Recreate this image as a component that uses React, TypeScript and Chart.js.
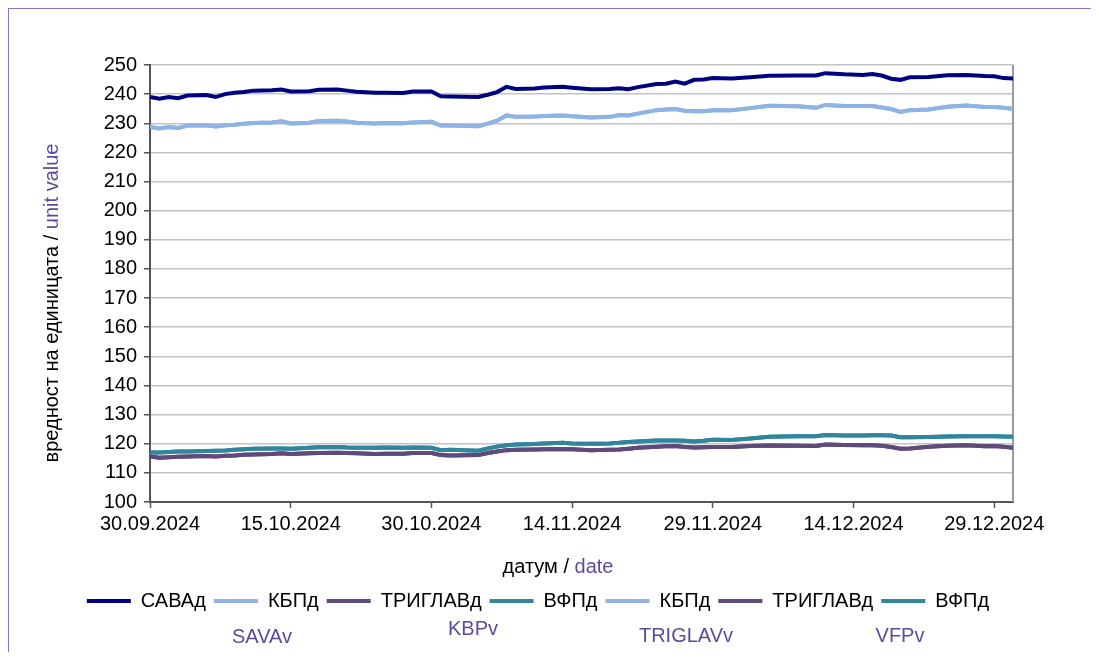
import React, { useEffect, useRef } from "react";
import { Chart, registerables } from "chart.js";

Chart.register(...registerables);

// ---- data ----
// day offsets from 30.09.2024
const days = [0, 1, 2, 3, 4, 6, 7, 8, 9, 10, 11, 13, 14, 15, 17, 18, 20, 21, 22, 24, 25, 27, 28, 30, 31, 32, 35, 36, 37, 38, 39, 41, 42, 44, 45, 47, 49, 50, 51, 52, 54, 55, 56, 57, 58, 59, 60, 62, 64, 66, 69, 71, 72, 74, 76, 77, 78, 79, 80, 81, 83, 85, 87, 89, 90, 91, 92];

const savaValues = [239.0, 238.4, 239.0, 238.6, 239.5, 239.7, 239.0, 240.0, 240.5, 240.7, 241.2, 241.3, 241.6, 240.9, 241.0, 241.5, 241.6, 241.2, 240.8, 240.5, 240.5, 240.4, 240.9, 240.9, 239.3, 239.2, 239.0, 239.8, 240.7, 242.5, 241.8, 241.9, 242.3, 242.5, 242.2, 241.7, 241.8, 242.0, 241.7, 242.4, 243.5, 243.6, 244.3, 243.6, 244.9, 245.0, 245.5, 245.4, 245.8, 246.3, 246.4, 246.4, 247.2, 246.8, 246.6, 246.9, 246.4, 245.3, 244.9, 245.8, 245.9, 246.5, 246.6, 246.2, 246.1, 245.5, 245.4];

const kbpValues = [228.7, 228.2, 228.7, 228.4, 229.2, 229.3, 228.9, 229.3, 229.5, 229.8, 230.1, 230.3, 230.7, 229.9, 230.2, 230.8, 230.9, 230.6, 230.2, 229.9, 230.1, 230.0, 230.3, 230.5, 229.2, 229.2, 229.0, 229.9, 230.9, 232.7, 232.2, 232.3, 232.5, 232.7, 232.4, 232.0, 232.2, 232.8, 232.7, 233.3, 234.5, 234.7, 234.9, 234.3, 234.1, 234.1, 234.5, 234.5, 235.2, 236.0, 235.8, 235.3, 236.3, 235.9, 235.9, 235.9, 235.4, 234.9, 233.9, 234.5, 234.7, 235.7, 236.1, 235.6, 235.6, 235.3, 235.0];

const triglavValues = [115.6, 115.2, 115.4, 115.5, 115.6, 115.8, 115.6, 115.9, 116.0, 116.2, 116.3, 116.5, 116.7, 116.5, 116.7, 116.8, 116.9, 116.8, 116.7, 116.5, 116.6, 116.6, 116.8, 116.8, 116.1, 116.0, 116.1, 116.8, 117.3, 117.8, 117.9, 118.0, 118.1, 118.2, 118.1, 117.8, 117.9, 118.0, 118.3, 118.6, 119.0, 119.1, 119.2, 118.9, 118.7, 118.8, 118.9, 118.9, 119.2, 119.4, 119.3, 119.2, 119.7, 119.6, 119.5, 119.5, 119.3, 118.9, 118.3, 118.4, 119.0, 119.3, 119.5, 119.1, 119.2, 119.0, 118.6];

const vfpValues = [117.0, 117.0, 117.2, 117.3, 117.3, 117.5, 117.6, 117.7, 117.9, 118.1, 118.3, 118.4, 118.4, 118.3, 118.6, 118.8, 118.9, 118.7, 118.6, 118.6, 118.7, 118.6, 118.7, 118.6, 117.8, 117.9, 117.6, 118.4, 119.0, 119.5, 119.7, 119.9, 120.1, 120.3, 120.1, 120.0, 120.1, 120.3, 120.6, 120.8, 121.1, 121.1, 121.1, 121.0, 120.8, 121.0, 121.4, 121.3, 121.8, 122.4, 122.6, 122.6, 123.0, 122.8, 122.8, 122.9, 122.9, 122.8, 122.2, 122.2, 122.3, 122.5, 122.6, 122.6, 122.6, 122.5, 122.4];

const tickDays = [0, 15, 30, 45, 60, 75, 90];
const tickLabels = ["30.09.2024", "15.10.2024", "30.10.2024", "14.11.2024", "29.11.2024", "14.12.2024", "29.12.2024"];

const seriesNames = ["САВАд", "КБПд", "ТРИГЛАВд", "ВФПд", "КБПд", "ТРИГЛАВд", "ВФПд"];
const englishNames = ["SAVAv", "KBPv", "TRIGLAVv", "VFPv"];

const yTitleParts = ["вредност на единицата / ", "unit value"];
const xTitleParts = ["датум / ", "date"];

// ---- styles ----
const FONT = '"Liberation Sans", Arial, sans-serif';
const PURPLE = "#5e4b98";
const FRAME = "#8e72c8";
const C_SAVA = "#000080";
const C_KBP = "#8fb4e3";
const C_TRIG = "#604a7b";
const C_VFP = "#31859c";

function drawSegments(ctx: CanvasRenderingContext2D, segs: [string, string][], cx: number, cy: number) {
  const widths = segs.map((s) => ctx.measureText(s[0]).width);
  const total = widths.reduce((a, b) => a + b, 0);
  let x = cx - total / 2;
  ctx.textAlign = "left";
  segs.forEach((s, i) => {
    ctx.fillStyle = s[1];
    ctx.fillText(s[0], x, cy);
    x += widths[i];
  });
}

const decorPlugin = {
  id: "decor",
  beforeDatasetsDraw(chart: any) {
    const { ctx, chartArea } = chart;
    ctx.save();
    ctx.strokeStyle = "#9a9a9a";
    ctx.lineWidth = 2;
    ctx.beginPath();
    ctx.moveTo(chartArea.right, chartArea.top);
    ctx.lineTo(chartArea.right, chartArea.bottom);
    ctx.stroke();
    ctx.restore();
  },
  afterDraw(chart: any) {
    const { ctx } = chart;
    ctx.save();
    ctx.font = `20px ${FONT}`;
    ctx.textBaseline = "middle";
    // y title
    ctx.save();
    ctx.translate(44, 295);
    ctx.rotate(-Math.PI / 2);
    drawSegments(ctx, [[yTitleParts[0], "#000"], [yTitleParts[1], PURPLE]], 0, 0);
    ctx.restore();
    // x title
    drawSegments(ctx, [[xTitleParts[0], "#000"], [xTitleParts[1], PURPLE]], 550, 559);
    // english names
    const pos: [number, number][] = [[254, 629], [465, 621], [678, 628], [892, 628]];
    englishNames.forEach((n, i) => {
      drawSegments(ctx, [[n, PURPLE]], pos[i][0], pos[i][1]);
    });
    ctx.restore();
  },
};

export default function App() {
  const ref = useRef<HTMLCanvasElement>(null);

  useEffect(() => {
    if (!ref.current) return;
    const mk = (vals: number[]) => days.map((d, i) => ({ x: d, y: vals[i] }));
    const valueSets = [savaValues, kbpValues, triglavValues, vfpValues, kbpValues, triglavValues, vfpValues];
    const colors = [C_SAVA, C_KBP, C_TRIG, C_VFP, C_KBP, C_TRIG, C_VFP];
    const chart = new Chart(ref.current, {
      type: "line",
      data: {
        datasets: seriesNames.map((name, i) => ({
          label: name,
          data: mk(valueSets[i]),
          borderColor: colors[i],
          backgroundColor: colors[i],
          borderWidth: 4,
          pointRadius: 0,
          tension: 0,
          fill: false,
        })),
      },
      options: {
        animation: false,
        responsive: false,
        layout: { padding: { top: 57, right: 31, bottom: 31, left: 0 } },
        scales: {
          x: {
            type: "linear",
            min: 0,
            max: 92,
            afterBuildTicks: (scale: any) => {
              scale.ticks = tickDays.map((v) => ({ value: v }));
            },
            afterFit: (scale: any) => {
              scale.height = 81;
            },
            ticks: {
              autoSkip: false,
              maxRotation: 0,
              padding: 4,
              color: "#000",
              font: { family: FONT, size: 20 },
              callback: (v: any) => tickLabels[tickDays.indexOf(Number(v))] ?? "",
            },
            grid: { drawOnChartArea: false, drawTicks: true, tickLength: 6, tickColor: "#555", tickWidth: 1.5 },
            border: { color: "#555", width: 2 },
          },
          y: {
            min: 100,
            max: 250,
            afterFit: (scale: any) => {
              scale.width = 142;
            },
            ticks: {
              stepSize: 10,
              padding: 7,
              color: "#000",
              font: { family: FONT, size: 20 },
            },
            grid: { color: "#c4c4c4", lineWidth: 1.5, tickLength: 6, tickColor: "#555", tickWidth: 1.5 },
            border: { color: "#555", width: 2 },
          },
          yRight: {
            position: "right",
            display: true,
            afterFit: (scale: any) => {
              scale.width = 55;
            },
            ticks: { display: false },
            grid: { display: false },
            border: { display: false },
          },
        },
        plugins: {
          tooltip: { enabled: false },
          legend: {
            position: "bottom",
            labels: {
              boxWidth: 44,
              boxHeight: 4,
              padding: 8,
              color: "#000",
              font: { family: FONT, size: 20 },
              generateLabels: (c: any) =>
                Chart.defaults.plugins.legend.labels.generateLabels(c).map((l: any) => ({
                  ...l,
                  lineWidth: 0,
                  fillStyle: l.strokeStyle,
                })),
            },
          },
        },
      },
      plugins: [decorPlugin],
    } as any);
    return () => chart.destroy();
  }, []);

  return (
    <div style={{ position: "relative", width: 1091, height: 644 }}>
      <div
        style={{
          position: "absolute",
          left: 0,
          top: 0,
          width: 1091,
          height: 644,
          borderLeft: `1px solid ${FRAME}`,
          borderTop: `1px solid ${FRAME}`,
          boxSizing: "border-box",
        }}
      />
      <canvas ref={ref} width={1091} height={644} style={{ position: "absolute", left: 0, top: 0 }} />
    </div>
  );
}
